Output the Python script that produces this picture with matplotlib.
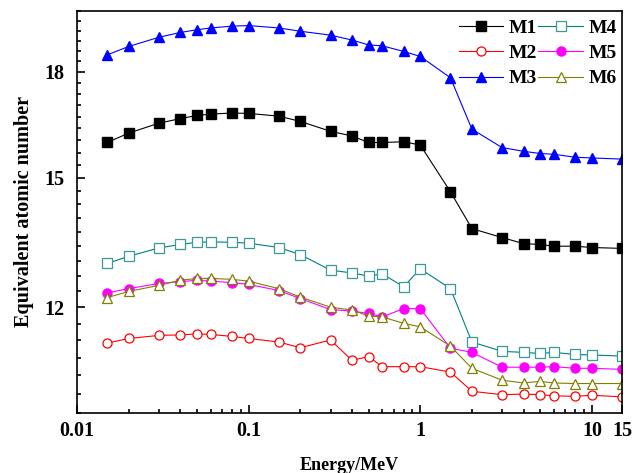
import numpy as np
import matplotlib
matplotlib.use('Agg')
import matplotlib.pyplot as plt
from matplotlib.ticker import FixedLocator, FixedFormatter, LogLocator, NullFormatter

plt.rcParams['font.family'] = ['Liberation Serif', 'DejaVu Serif']
plt.rcParams['font.weight'] = 'bold'

# photon energies (MeV)
energy = [0.015, 0.02, 0.03, 0.04, 0.05, 0.06, 0.08, 0.1, 0.15, 0.2, 0.3, 0.4, 0.5,
          0.6, 0.8, 1, 1.5, 2, 3, 4, 5, 6, 8, 10, 15]

# equivalent atomic number of each material
m1 = [15.94, 16.20, 16.48, 16.61, 16.70, 16.74, 16.77, 16.76, 16.68, 16.53, 16.25, 16.12, 15.94,
      15.94, 15.96, 15.87, 14.64, 13.74, 13.53, 13.39, 13.37, 13.33, 13.33, 13.30, 13.28]
m2 = [11.28, 11.37, 11.43, 11.44, 11.46, 11.45, 11.41, 11.37, 11.30, 11.19, 11.34, 10.95, 11.02,
      10.83, 10.83, 10.83, 10.73, 10.38, 10.32, 10.33, 10.32, 10.30, 10.29, 10.31, 10.28]
m3 = [18.54, 18.81, 19.11, 19.27, 19.36, 19.42, 19.48, 19.50, 19.42, 19.31, 19.18, 19.02, 18.86,
      18.83, 18.65, 18.49, 17.82, 16.31, 15.80, 15.70, 15.64, 15.62, 15.54, 15.52, 15.49]
m4 = [12.94, 13.10, 13.29, 13.37, 13.42, 13.43, 13.42, 13.40, 13.30, 13.14, 12.79, 12.73, 12.66,
      12.71, 12.43, 12.82, 12.39, 11.30, 11.12, 11.10, 11.08, 11.10, 11.06, 11.05, 11.03]
m5 = [12.30, 12.39, 12.50, 12.54, 12.57, 12.55, 12.52, 12.48, 12.35, 12.18, 11.95, 11.92, 11.87,
      11.80, 11.97, 11.97, 11.18, 11.10, 10.82, 10.82, 10.82, 10.83, 10.80, 10.80, 10.78]
m6 = [12.20, 12.33, 12.46, 12.57, 12.61, 12.61, 12.59, 12.55, 12.39, 12.21, 12.00, 11.94, 11.82,
      11.80, 11.67, 11.60, 11.22, 10.80, 10.58, 10.53, 10.56, 10.53, 10.52, 10.52, 10.52]

x_ticks = [0.01, 0.1, 1, 10, 15]
x_labels = ['0.01', '0.1', '1', '10', '15']
y_ticks = [12, 15, 18]

fig = plt.figure(figsize=(6.42, 4.73), dpi=100)
ax = fig.add_axes([0.12, 0.127, 0.849, 0.85])

lw = 0.8
ms = 6.5
ax.plot(energy, m1, '-s', color='black', lw=lw, ms=ms, mfc='black', mec='black', label='M1')
ax.plot(energy, m2, '-o', color='#ff0000', lw=lw, ms=ms, mfc='white', mec='#ff0000', mew=0.9, label='M2')
ax.plot(energy, m3, '-^', color='#0000ff', lw=lw, ms=7, mfc='#0000ff', mec='#0000ff', label='M3')
ax.plot(energy, m4, '-s', color='#008080', lw=lw, ms=ms, mfc='white', mec='#3a9a9a', mew=0.9, label='M4')
ax.plot(energy, m5, '-o', color='#ff00ff', lw=lw, ms=ms, mfc='#ff00ff', mec='#ff00ff', label='M5')
ax.plot(energy, m6, '-^', color='#808000', lw=lw, ms=7, mfc='white', mec='#808000', mew=0.9, label='M6')

ax.set_xscale('log')
ax.set_yscale('log')
ax.set_xlim(0.01, 15)
ax.set_ylim(10, 20)

ax.xaxis.set_major_locator(FixedLocator(x_ticks))
ax.xaxis.set_major_formatter(FixedFormatter(x_labels))
ax.xaxis.set_minor_locator(LogLocator(base=10, subs=np.arange(2, 10), numticks=20))
ax.xaxis.set_minor_formatter(NullFormatter())

ax.yaxis.set_major_locator(FixedLocator(y_ticks))
ax.yaxis.set_major_formatter(FixedFormatter([str(v) for v in y_ticks]))
# minor ticks every 1/3 between the majors
minor_y = [10 + k / 3 for k in range(31) if k % 3 != 0 or (10 + k // 3) not in y_ticks]
ax.yaxis.set_minor_locator(FixedLocator(minor_y))
ax.yaxis.set_minor_formatter(NullFormatter())

ax.tick_params(which='both', direction='in', top=False, right=False, width=1.2)
ax.tick_params(which='major', length=6, labelsize=14.5)
ax.tick_params(axis='x', which='major', pad=5.5)
ax.tick_params(axis='y', which='major', pad=9)
ax.tick_params(which='minor', length=3)
for s in ax.spines.values():
    s.set_linewidth(1.2)

ax.set_xlabel('Energy/MeV', fontsize=13, fontweight='bold', labelpad=11.5)
ax.set_ylabel('Equivalent atomic number', fontsize=14.5, fontweight='bold', labelpad=7.5)

ax.legend(ncol=2, loc='upper right', bbox_to_anchor=(1.0, 0.992), frameon=False, fontsize=14,
          handlelength=2.3, handletextpad=0.3, columnspacing=0.05,
          labelspacing=0.4, borderaxespad=0.1, borderpad=0.15)

fig.savefig('out.png', dpi=100)
